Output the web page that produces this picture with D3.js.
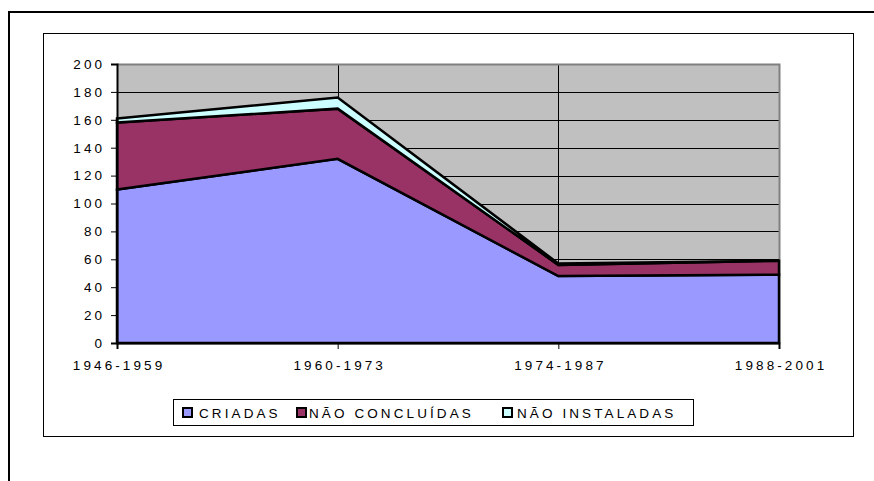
<!DOCTYPE html>
<html>
<head>
<meta charset="utf-8">
<script src="https://cdn.jsdelivr.net/npm/d3@7"></script>
<style>
  body { margin: 0; background: #fff; }
  text { font-family: "Liberation Sans", Arial, sans-serif; }
</style>
</head>
<body>
<div id="chart"></div>
<script>
// periods and series values
const periods = ["1946-1959", "1960-1973", "1974-1987", "1988-2001"];
const criadas = [110, 132, 48, 49];
const naoConcluidas = [48, 36, 8, 10];
const naoInstaladas = [3, 8, 1, 0];
const seriesNames = ["CRIADAS", "NÃO CONCLUÍDAS", "NÃO INSTALADAS"];
const seriesColors = ["#9999ff", "#993366", "#ccffff"];
const yTicks = [0, 20, 40, 60, 80, 100, 120, 140, 160, 180, 200];

const width = 874, height = 481;
const plot = {left: 117, right: 779, top: 64, bottom: 343};
const fs = 13.5; // font size
const ls = 3.1;  // letter spacing used everywhere

const svg = d3.select("#chart").append("svg")
    .attr("width", width)
    .attr("height", height);

// outer frame (only top and left edges visible)
svg.append("path")
    .attr("d", "M9,481V12H874")
    .attr("fill", "none")
    .attr("stroke", "#000")
    .attr("stroke-width", 2);

// chart area box
svg.append("rect")
    .attr("x", 43.5).attr("y", 33.5)
    .attr("width", 810).attr("height", 403)
    .attr("fill", "#fff")
    .attr("stroke", "#000")
    .attr("stroke-width", 1);

var x = d3.scalePoint()
    .domain(periods)
    .range([plot.left, plot.right]);

var y = d3.scaleLinear()
    .domain([0, 200])
    .range([plot.bottom, plot.top]);

// plot background
svg.append("rect")
    .attr("x", plot.left).attr("y", plot.top)
    .attr("width", plot.right - plot.left)
    .attr("height", plot.bottom - plot.top)
    .attr("fill", "#c0c0c0");

// horizontal gridlines
svg.append("g")
    .selectAll("line")
    .data(yTicks.slice(1, -1))
    .join("line")
    .attr("x1", plot.left).attr("x2", plot.right)
    .attr("y1", d => Math.round(y(d)) + 0.5)
    .attr("y2", d => Math.round(y(d)) + 0.5)
    .attr("stroke", "#000")
    .attr("stroke-width", 1);

// vertical gridlines
svg.append("g")
    .selectAll("line")
    .data(periods.slice(1, -1))
    .join("line")
    .attr("x1", d => Math.round(x(d)) + 0.5)
    .attr("x2", d => Math.round(x(d)) + 0.5)
    .attr("y1", plot.top).attr("y2", plot.bottom)
    .attr("stroke", "#000")
    .attr("stroke-width", 1);

// plot border top / right in gray
svg.append("path")
    .attr("d", "M" + plot.left + "," + (plot.top + 0.5) + "H" + (plot.right + 0.5) + "V" + plot.bottom)
    .attr("fill", "none")
    .attr("stroke", "#808080")
    .attr("stroke-width", 2);

// stack the series
const table = periods.map((p, i) => ({
    period: p,
    s0: criadas[i],
    s1: naoConcluidas[i],
    s2: naoInstaladas[i]
}));
const stacked = d3.stack().keys(["s0", "s1", "s2"])(table);

const area = d3.area()
    .x(d => x(d.data.period))
    .y0(d => y(d[0]))
    .y1(d => y(d[1]));

svg.append("g")
    .selectAll("path")
    .data(stacked)
    .join("path")
    .attr("d", area)
    .attr("fill", (d, i) => seriesColors[i])
    .attr("stroke", "#000")
    .attr("stroke-width", 2.5)
    .attr("stroke-linejoin", "miter");

// y axis
const yAxis = svg.append("g")
    .attr("transform", "translate(" + plot.left + ",0)")
    .call(d3.axisLeft(y).tickValues(yTicks).tickSize(6).tickPadding(9));
yAxis.select(".domain").attr("stroke-width", 2);
yAxis.selectAll("text")
    .attr("font-size", fs)
    .attr("letter-spacing", ls)
    .attr("dx", ls)
    .attr("fill", "#000");

// x axis
const xAxis = svg.append("g")
    .attr("transform", "translate(0," + plot.bottom + ")")
    .call(d3.axisBottom(x).tickSize(6).tickPadding(11));
xAxis.select(".domain").attr("stroke-width", 2);
xAxis.selectAll("text")
    .attr("font-size", fs)
    .attr("letter-spacing", ls)
    .attr("dx", ls / 2)
    .attr("fill", "#000");

// legend
const legend = svg.append("g");
legend.append("rect")
    .attr("x", 173.5).attr("y", 399.5)
    .attr("width", 520).attr("height", 26)
    .attr("fill", "#fff")
    .attr("stroke", "#000");

const legendX = [182, 296, 502];
const legendTextX = [199, 309, 517];
seriesNames.forEach(function (name, i) {
    legend.append("rect")
        .attr("x", legendX[i] + 1).attr("y", 408)
        .attr("width", 9).attr("height", 9)
        .attr("fill", seriesColors[i])
        .attr("stroke", "#000")
        .attr("stroke-width", 2);
    legend.append("text")
        .attr("x", legendTextX[i])
        .attr("y", 417.5)
        .attr("font-size", fs)
        .attr("letter-spacing", ls)
        .text(name);
});
</script>
</body>
</html>
